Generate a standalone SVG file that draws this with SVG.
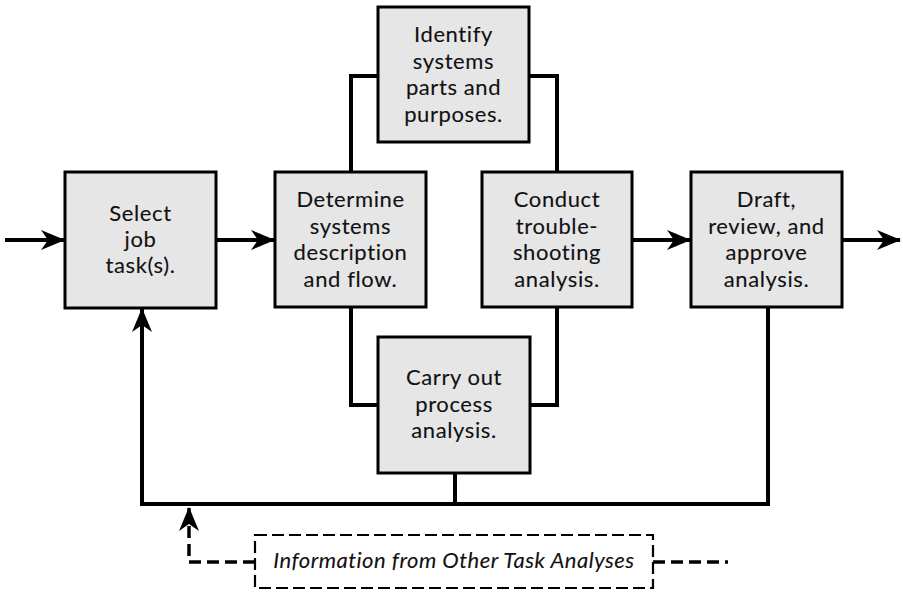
<svg xmlns="http://www.w3.org/2000/svg" width="903" height="592" viewBox="0 0 903 592">
<style>
.box{fill:#e6e6e6;stroke:#000;stroke-width:3}
.t{font-family:Lato,"Open Sans",sans-serif;font-size:22px;letter-spacing:0.6px;fill:#111;stroke:#111;stroke-width:0.12;text-anchor:middle}
.ln{fill:none;stroke:#000;stroke-width:4}
.dl{fill:none;stroke:#000;stroke-width:3.5;stroke-dasharray:12 6}
.db{fill:#fff;stroke:#000;stroke-width:2.2;stroke-dasharray:12 5}
.it{font-family:Lato,"Open Sans",sans-serif;font-size:22px;letter-spacing:0.5px;font-style:italic;fill:#111;stroke:#111;stroke-width:0.1;text-anchor:middle}
</style>
<defs>
<marker id="ah" markerUnits="userSpaceOnUse" markerWidth="24" markerHeight="22" refX="23" refY="10" orient="auto" viewBox="0 0 24 20">
<path d="M0,0 L24,10 L0,20 L7,10 Z" fill="#000"/>
</marker>
</defs>
<g id="connectors">
<line class="ln" x1="5" y1="240" x2="64" y2="240" marker-end="url(#ah)"/>
<line class="ln" x1="216" y1="240" x2="274" y2="240" marker-end="url(#ah)"/>
<line class="ln" x1="632" y1="240" x2="690" y2="240" marker-end="url(#ah)"/>
<line class="ln" x1="842" y1="240" x2="900" y2="240" marker-end="url(#ah)"/>
<polyline class="ln" points="378,76 351,76 351,172"/>
<polyline class="ln" points="529,76 557,76 557,172"/>
<polyline class="ln" points="351,307 351,405 378,405"/>
<polyline class="ln" points="557,307 557,405 530,405"/>
<polyline class="ln" points="768,307 768,504 142,504 142,309" marker-end="url(#ah)"/>
<line class="ln" x1="455" y1="473" x2="455" y2="504"/>
<polyline class="dl" points="255,562 189,562 189,508" marker-end="url(#ah)"/>
<line class="dl" x1="653" y1="562" x2="728" y2="562"/>
</g>
<g id="select">
<rect class="box" x="65" y="172" width="151" height="136"/>
<text class="t" x="140.5" y="221">Select</text>
<text class="t" x="140.5" y="247">job</text>
<text class="t" x="140.5" y="273">task(s).</text>
</g>
<g id="determine">
<rect class="box" x="275" y="172" width="151" height="135"/>
<text class="t" x="350.5" y="207">Determine</text>
<text class="t" x="350.5" y="233.5">systems</text>
<text class="t" x="350.5" y="260">description</text>
<text class="t" x="350.5" y="286.5">and flow.</text>
</g>
<g id="identify">
<rect class="box" x="378" y="7" width="151" height="135"/>
<text class="t" x="453.5" y="42">Identify</text>
<text class="t" x="453.5" y="68.5">systems</text>
<text class="t" x="453.5" y="95">parts and</text>
<text class="t" x="453.5" y="121.5">purposes.</text>
</g>
<g id="conduct">
<rect class="box" x="482" y="172" width="150" height="135"/>
<text class="t" x="557" y="207">Conduct</text>
<text class="t" x="557" y="233.5">trouble-</text>
<text class="t" x="557" y="260">shooting</text>
<text class="t" x="557" y="286.5">analysis.</text>
</g>
<g id="carryout">
<rect class="box" x="378" y="337" width="152" height="136"/>
<text class="t" x="454" y="385">Carry out</text>
<text class="t" x="454" y="411.5">process</text>
<text class="t" x="454" y="438">analysis.</text>
</g>
<g id="draft">
<rect class="box" x="691" y="172" width="151" height="135"/>
<text class="t" x="766.5" y="207">Draft,</text>
<text class="t" x="766.5" y="233.5">review, and</text>
<text class="t" x="766.5" y="260">approve</text>
<text class="t" x="766.5" y="286.5">analysis.</text>
</g>
<g id="info">
<rect class="db" x="255" y="535" width="398" height="53"/>
<text class="it" x="454" y="568">Information from Other Task Analyses</text>
</g>
</svg>
